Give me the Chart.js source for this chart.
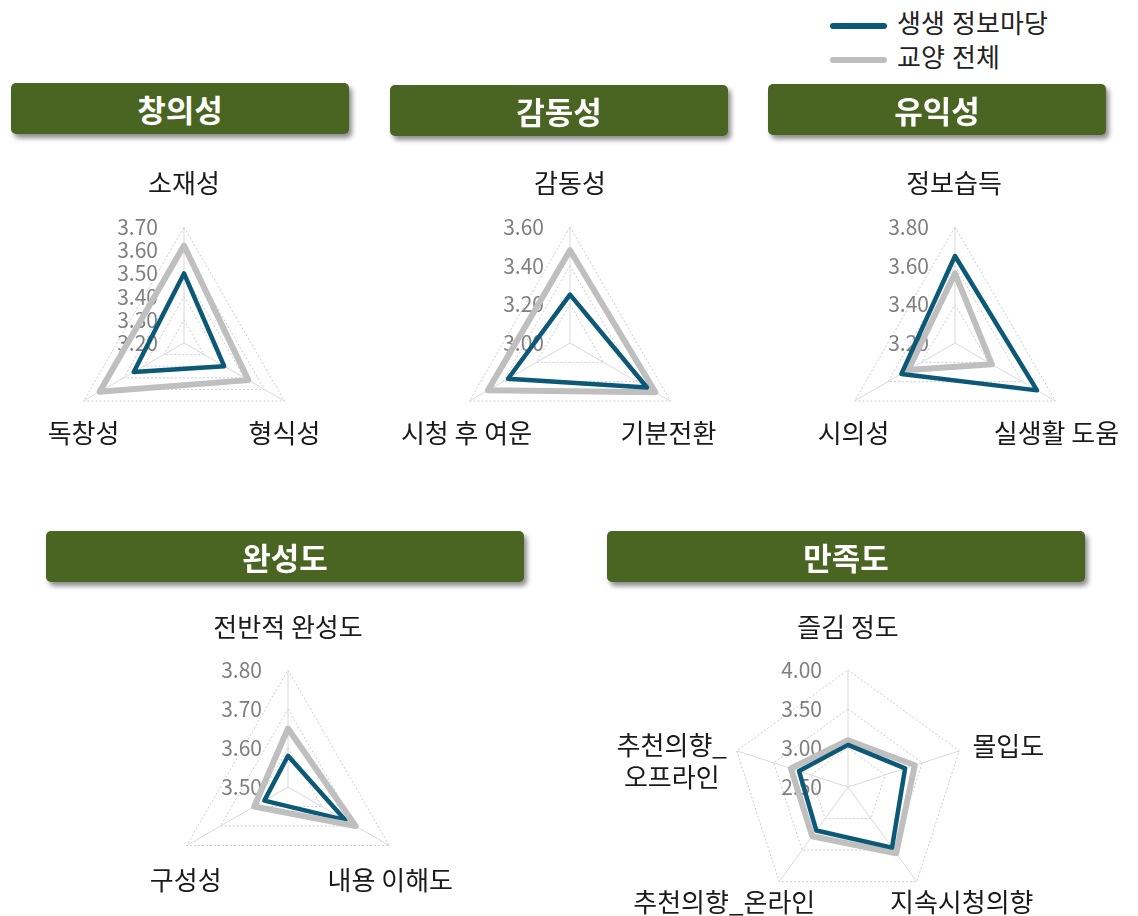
<!DOCTYPE html>
<html lang="ko">
<head>
<meta charset="utf-8">
<title>프로그램 평가 레이더 차트</title>
<script src="https://cdn.jsdelivr.net/npm/chart.js@4.4.1/dist/chart.umd.min.js"></script>
<style>
    body { margin: 0; background: #fff; font-family: "Noto Sans CJK KR", "Noto Sans", sans-serif; }
    #page { position: relative; width: 1138px; height: 916px; overflow: hidden; }
    canvas.radar { position: absolute; left: 0; top: 0; }
    .head {
        position: absolute; height: 51px; line-height: 51px;
        background: #4a6521; color: #fff; text-align: center;
        font-size: 31px; font-weight: bold; border-radius: 5px;
        box-shadow: 3px 4px 5px rgba(0, 0, 0, 0.45);
    }
    .legend { position: absolute; left: 830px; font-size: 26px; color: #222; height: 34px; line-height: 34px; }
    .legend span.line { display: inline-block; width: 57px; height: 6px; border-radius: 3px; vertical-align: middle; margin-right: 10px; }
</style>
</head>
<body>
<div id="page"></div>
<script>
// 시리즈
const seriesNames = ['생생 정보마당', '교양 전체'];
const seriesColors = ['#0b5877', '#bfbfbf'];

// 창의성
const creativityLabels = ['소재성', '형식성', '독창성'];
const creativityMain = [3.50, 3.40, 3.45];
const creativityAll = [3.62, 3.52, 3.62];
const creativityTicks = [3.20, 3.30, 3.40, 3.50, 3.60, 3.70];

// 감동성
const emotionLabels = ['감동성', '기분전환', '시청 후 여운'];
const emotionMain = [3.25, 3.46, 3.37];
const emotionAll = [3.48, 3.51, 3.49];
const emotionTicks = [3.00, 3.20, 3.40, 3.60];

// 유익성
const usefulLabels = ['정보습득', '실생활 도움', '시의성'];
const usefulMain = [3.65, 3.69, 3.52];
const usefulAll = [3.56, 3.42, 3.48];
const usefulTicks = [3.20, 3.40, 3.60, 3.80];

// 완성도
const qualityLabels = ['전반적 완성도', '내용 이해도', '구성성'];
const qualityMain = [3.58, 3.67, 3.57];
const qualityAll = [3.65, 3.70, 3.60];
const qualityTicks = [3.50, 3.60, 3.70, 3.80];

// 만족도
const satisfyLabels = ['즐김 정도', '몰입도', '지속시청의향', '추천의향_온라인', '추천의향_\n오프라인'];
const satisfyMain = [3.04, 3.27, 3.46, 3.19, 3.16];
const satisfyAll = [3.10, 3.40, 3.55, 3.28, 3.27];
const satisfyTicks = [2.50, 3.00, 3.50, 4.00];

// 배치 (데이터와 분리)
const PAGE_W = 1138, PAGE_H = 916;
const panels = [
    { title: '창의성', labels: creativityLabels, main: creativityMain, all: creativityAll, ticks: creativityTicks,
      cx: 184, cy: 343, r: 116, head: [11, 83, 338],
      labelShift: [[0, -44], [0, 32], [0, 32]] },
    { title: '감동성', labels: emotionLabels, main: emotionMain, all: emotionAll, ticks: emotionTicks,
      cx: 570, cy: 343, r: 116, head: [390, 85, 338],
      labelShift: [[0, -44], [-2, 32], [-3, 32]] },
    { title: '유익성', labels: usefulLabels, main: usefulMain, all: usefulAll, ticks: usefulTicks,
      cx: 955, cy: 343, r: 116, head: [768, 84, 338],
      labelShift: [[-1, -44], [1, 32], [-1, 32]] },
    { title: '완성도', labels: qualityLabels, main: qualityMain, all: qualityAll, ticks: qualityTicks,
      cx: 288, cy: 787, r: 117, head: [46, 531, 478], grayOnTop: true,
      labelShift: [[0, -43], [1, 35], [-1, 35]] },
    { title: '만족도', labels: satisfyLabels, main: satisfyMain, all: satisfyAll, ticks: satisfyTicks,
      cx: 848, cy: 787, r: 117, head: [607, 531, 478],
      labelShift: [[0, -43], [49, -5], [45, 20], [-55, 20], [-65, 10]] }
];

const page = document.getElementById('page');

// 범례
seriesNames.forEach((name, i) => {
    const item = document.createElement('div');
    item.className = 'legend';
    item.style.top = (5 + i * 34) + 'px';
    item.innerHTML = '<span class="line" style="background:' + seriesColors[i] + '"></span>' + name;
    page.appendChild(item);
});

// 눈금 글자 (데이터 선 아래에 그림)
const tickTextPlugin = {
    id: 'tickText',
    beforeDatasetsDraw(chart) {
        const scale = chart.scales.r;
        const ctx = chart.ctx;
        ctx.save();
        ctx.font = '21px "Noto Sans CJK KR", "Noto Sans", sans-serif';
        ctx.fillStyle = '#7f7f7f';
        ctx.textAlign = 'right';
        ctx.textBaseline = 'middle';
        scale.ticks.forEach(t => {
            const d = scale.getDistanceFromCenterForValue(t.value);
            ctx.fillText(t.value.toFixed(2), scale.xCenter - 26, scale.yCenter - d);
        });
        ctx.restore();
    }
};

// 항목 이름
const axisTextPlugin = {
    id: 'axisText',
    afterDraw(chart) {
        const scale = chart.scales.r;
        const ctx = chart.ctx;
        const shift = chart.options.plugins.axisText.shift;
        ctx.save();
        ctx.font = '26px "Noto Sans CJK KR", sans-serif';
        ctx.fillStyle = '#1a1a1a';
        ctx.textAlign = 'center';
        ctx.textBaseline = 'middle';
        chart.data.labels.forEach((label, i) => {
            const p = scale.getPointPosition(i, scale.drawingArea);
            const lines = label.split('\n');
            const x = p.x + shift[i][0];
            const y0 = p.y + shift[i][1] - (lines.length - 1) * 16;
            lines.forEach((ln, k) => ctx.fillText(ln, x, y0 + k * 32));
        });
        ctx.restore();
    }
};

panels.forEach(p => {
    const head = document.createElement('div');
    head.className = 'head';
    head.style.left = p.head[0] + 'px';
    head.style.top = p.head[1] + 'px';
    head.style.width = p.head[2] + 'px';
    head.textContent = p.title;
    page.appendChild(head);

    const canvas = document.createElement('canvas');
    canvas.className = 'radar';
    canvas.width = PAGE_W;
    canvas.height = PAGE_H;
    page.appendChild(canvas);

    new Chart(canvas.getContext('2d'), {
        type: 'radar',
        data: {
            labels: p.labels,
            datasets: [{
                label: seriesNames[0],
                data: p.main,
                borderColor: seriesColors[0],
                borderWidth: 4.5,
                order: p.grayOnTop ? 1 : 0
            }, {
                label: seriesNames[1],
                data: p.all,
                borderColor: seriesColors[1],
                borderWidth: 6,
                order: p.grayOnTop ? 0 : 1
            }]
        },
        options: {
            responsive: false,
            animation: false,
            layout: {
                padding: {
                    left: p.cx - p.r,
                    right: PAGE_W - p.cx - p.r,
                    top: p.cy - p.r,
                    bottom: PAGE_H - p.cy - p.r
                }
            },
            elements: {
                line: { fill: false, tension: 0, borderJoinStyle: 'round' },
                point: { radius: 0, hoverRadius: 0 }
            },
            scales: {
                r: {
                    min: p.ticks[0],
                    max: p.ticks[p.ticks.length - 1],
                    afterBuildTicks: (scale) => {
                        scale.ticks = p.ticks.map(v => ({ value: v }));
                    },
                    ticks: { display: false },
                    pointLabels: { display: false },
                    grid: { color: '#cccccc', lineWidth: 1 },
                    border: { dash: [2, 2] },
                    angleLines: { color: '#d9d9d9', lineWidth: 1 }
                }
            },
            plugins: {
                legend: { display: false },
                tooltip: { enabled: false },
                axisText: { shift: p.labelShift }
            }
        },
        plugins: [tickTextPlugin, axisTextPlugin]
    });
});
</script>
</body>
</html>
